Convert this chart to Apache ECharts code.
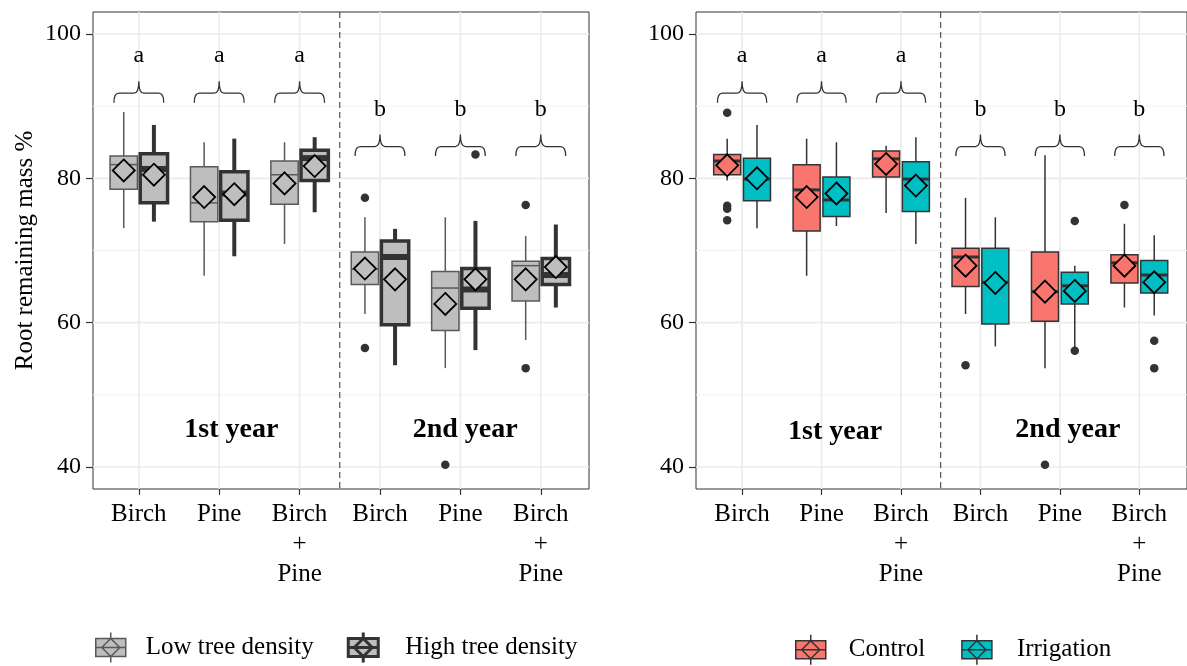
<!DOCTYPE html>
<html><head><meta charset="utf-8">
<script src="https://cdn.jsdelivr.net/npm/echarts@6/dist/echarts.min.js"></script>
<style>html,body{margin:0;padding:0;background:#fff}#c{width:1187px;height:666px}</style>
</head><body><div id="c"></div>
<script>
// ---------- data ----------
const categories = ['Birch', 'Pine', 'Birch\n+\nPine', 'Birch', 'Pine', 'Birch\n+\nPine'];
const yMajorTicks = [40, 60, 80, 100];
const yMinorTicks = [50, 70, 90];
const letters = ['a', 'a', 'a', 'b', 'b', 'b'];
const yearLabels = ['1st year', '2nd year'];

// each box: [lower whisker, Q1, median, Q3, upper whisker]
const lowStats = [
  [73.1, 78.5, 81.9, 83.1, 89.2],
  [66.5, 74.0, 76.6, 81.6, 85.0],
  [70.9, 76.4, 80.5, 82.4, 85.0],
  [61.2, 65.3, 67.4, 69.8, 74.6],
  [53.7, 58.9, 64.8, 67.1, 74.6],
  [57.6, 63.0, 67.9, 68.5, 72.0]
];
const lowMeans = [81.1, 77.4, 79.3, 67.5, 62.6, 66.0];
const lowOutliers = [[3, 77.3], [3, 56.5], [4, 40.3], [5, 76.3], [5, 53.7]];

const highStats = [
  [74.0, 76.6, 81.3, 83.4, 87.4],
  [69.2, 74.2, 77.9, 80.9, 85.5],
  [75.3, 79.7, 82.8, 83.9, 85.7],
  [54.1, 59.7, 69.1, 71.3, 73.0],
  [56.2, 62.0, 64.6, 67.5, 74.1],
  [62.1, 65.3, 66.6, 68.9, 73.6]
];
const highMeans = [80.5, 77.8, 81.7, 66.0, 66.0, 67.7];
const highOutliers = [[4, 83.3]];

const controlStats = [
  [79.7, 80.5, 82.4, 83.3, 85.5],
  [66.5, 72.7, 78.4, 81.9, 85.5],
  [75.2, 80.2, 82.7, 83.8, 84.5],
  [61.2, 65.0, 69.1, 70.3, 77.3],
  [53.7, 60.2, 64.3, 69.8, 83.2],
  [62.1, 65.5, 68.3, 69.4, 73.7]
];
const controlMeans = [81.8, 77.4, 82.0, 67.9, 64.3, 67.9];
const controlOutliers = [[0, 89.1], [0, 76.2], [0, 75.8], [0, 74.2], [3, 54.1], [4, 40.3], [5, 76.3]];

const irrigationStats = [
  [73.1, 76.9, 79.9, 82.8, 87.4],
  [73.4, 74.7, 77.0, 80.2, 85.0],
  [70.9, 75.4, 79.9, 82.3, 85.7],
  [56.7, 59.8, 65.6, 70.3, 74.6],
  [56.1, 62.6, 65.1, 67.0, 67.9],
  [61.0, 64.1, 66.6, 68.6, 72.1]
];
const irrigationMeans = [80.0, 77.9, 79.0, 65.5, 64.4, 65.6];
const irrigationOutliers = [[4, 74.1], [4, 56.1], [5, 57.5], [5, 53.7]];

// ---------- styling / layout ----------
const FONT = "'Liberation Serif', 'Times New Roman', serif";
const BOX_W = 0.34, DODGE = 0.1875, BRACE_HALF = 0.31;
const braceLevel = [91.8, 84.4];           // brace baseline per year (value units)
const yearLabelPos = [[[1.15, 45.1], [4.06, 45.1]], [[1.17, 44.9], [4.1, 45.1]]];

const styles = {
  low:  {fill: '#BEBEBE', stroke: '#595959', boxW: 1.5, whiskerW: 1.5, medW: 1.5, offset: -DODGE},
  high: {fill: '#BEBEBE', stroke: '#333333', boxW: 3.5, whiskerW: 4, medW: 6, offset: DODGE},
  ctrl: {fill: '#F8766D', stroke: '#333333', boxW: 1.5, whiskerW: 1.5, medW: 3, offset: -DODGE},
  irr:  {fill: '#00BFC4', stroke: '#333333', boxW: 1.5, whiskerW: 1.5, medW: 3, offset: DODGE}
};

function gridLinesSeries(idx) {
  const lines = [];
  yMajorTicks.forEach(v => lines.push({t: 'h', v, w: 1.6, c: '#EBEBEB'}));
  yMinorTicks.forEach(v => lines.push({t: 'h', v, w: 1, c: '#F2F2F2'}));
  categories.forEach((_, i) => lines.push({t: 'v', v: i, w: 1.6, c: '#EBEBEB'}));
  lines.push({t: 'v', v: 2.5, w: 1, c: '#333', dash: [6, 4]});
  return {
    type: 'custom', xAxisIndex: idx, yAxisIndex: idx, z: 1, silent: true,
    data: lines.map((l, i) => [i]),
    renderItem(params, api) {
      const l = lines[params.dataIndex];
      const cs = params.coordSys;
      if (l.t === 'h') {
        const y = api.coord([0, l.v])[1];
        return {type: 'line', shape: {x1: cs.x, y1: y, x2: cs.x + cs.width, y2: y}, style: {stroke: l.c, lineWidth: l.w}};
      }
      const x = api.coord([l.v, 50])[0];
      return {type: 'line', shape: {x1: x, y1: cs.y, x2: x, y2: cs.y + cs.height}, style: {stroke: l.c, lineWidth: l.w, lineDash: l.dash || null}};
    }
  };
}

function boxSeries(name, idx, stats, means, st) {
  return {
    type: 'custom', name, xAxisIndex: idx, yAxisIndex: idx, z: 3,
    itemStyle: {color: st.fill, borderColor: st.stroke},
    data: stats.map((s, i) => [i, ...s, means[i]]),
    encode: {x: 0, y: [1, 2, 3, 4, 5]},
    renderItem(params, api) {
      const x = api.value(0) + st.offset;
      const lo = api.value(1), q1 = api.value(2), med = api.value(3), q3 = api.value(4), hi = api.value(5), mean = api.value(6);
      const a = api.coord([x - BOX_W / 2, q3]);
      const b = api.coord([x + BOX_W / 2, q1]);
      const cx = api.coord([x, med])[0];
      const yy = v => api.coord([x, v])[1];
      const m = api.coord([x, mean]);
      const D = 11;
      return {type: 'group', children: [
        {type: 'line', shape: {x1: cx, y1: yy(hi), x2: cx, y2: yy(q3)}, style: {stroke: st.stroke, lineWidth: st.whiskerW}},
        {type: 'line', shape: {x1: cx, y1: yy(q1), x2: cx, y2: yy(lo)}, style: {stroke: st.stroke, lineWidth: st.whiskerW}},
        {type: 'rect', shape: {x: a[0], y: a[1], width: b[0] - a[0], height: b[1] - a[1]}, style: {fill: st.fill, stroke: st.stroke, lineWidth: st.boxW}},
        {type: 'line', shape: {x1: a[0], y1: yy(med), x2: b[0], y2: yy(med)}, style: {stroke: st.stroke, lineWidth: st.medW}},
        {type: 'polygon', shape: {points: [[m[0], m[1] - D], [m[0] + D, m[1]], [m[0], m[1] + D], [m[0] - D, m[1]]]}, style: {fill: st.fill, stroke: '#000', lineWidth: 1.8}}
      ]};
    }
  };
}

function outlierSeries(idx, pts, st) {
  return {
    type: 'scatter', xAxisIndex: idx, yAxisIndex: idx, z: 4, silent: true,
    symbol: 'circle', symbolSize: 8.5, itemStyle: {color: '#333333', opacity: 1},
    data: pts.map(p => [p[0] + st.offset, p[1]])
  };
}

function annotationSeries(idx) {
  return {
    type: 'custom', xAxisIndex: idx, yAxisIndex: idx, z: 5, silent: true,
    data: letters.map((l, i) => [i, braceLevel[i < 3 ? 0 : 1]]),
    renderItem(params, api) {
      const i = params.dataIndex;
      const c = api.coord([api.value(0), api.value(1)]);
      const L = api.coord([api.value(0) - BRACE_HALF, api.value(1)])[0];
      const R = api.coord([api.value(0) + BRACE_HALF, api.value(1)])[0];
      const y = c[1], cx = c[0], drop = 9.5, rise = 12, r = 5;
      const d = `M${L},${y + drop} Q${L},${y} ${L + r},${y} L${cx - r},${y} Q${cx},${y} ${cx},${y - rise} ` +
                `M${cx},${y - rise} Q${cx},${y} ${cx + r},${y} L${R - r},${y} Q${R},${y} ${R},${y + drop}`;
      return {type: 'group', children: [
        {type: 'path', shape: {pathData: d}, style: {fill: 'none', stroke: '#333', lineWidth: 1.3}},
        {type: 'text', x: cx, y: y - rise - 25, style: {text: letters[i], fill: '#000', fontSize: 24, fontFamily: FONT, align: 'center', verticalAlign: 'middle'}}
      ]};
    }
  };
}

function yearSeries(idx) {
  return {
    type: 'custom', xAxisIndex: idx, yAxisIndex: idx, z: 5, silent: true,
    data: yearLabelPos[idx],
    renderItem(params, api) {
      const p = api.coord([api.value(0), api.value(1)]);
      return {type: 'text', x: p[0], y: p[1], style: {text: yearLabels[params.dataIndex], fill: '#000', fontSize: 28, fontWeight: 'bold', fontFamily: FONT, align: 'center', verticalAlign: 'middle'}};
    }
  };
}

const catIdx = categories.map((_, i) => i);
function xAxis(idx, min) {
  return {
    gridIndex: idx, type: 'value', min: min, max: 5.6,
    axisLine: {show: false, onZero: false}, splitLine: {show: false},
    axisTick: {show: true, customValues: catIdx, length: 6, lineStyle: {color: '#333', width: 1.2}},
    axisLabel: {customValues: catIdx, formatter: v => categories[Math.round(v)], fontSize: 25, lineHeight: 30,
                color: '#000', fontFamily: FONT, margin: 10}
  };
}
function yAxis(idx, withName) {
  return {
    gridIndex: idx, type: 'value', min: 36.95, max: 103.05,
    name: withName ? 'Root remaining mass %' : '', nameLocation: 'middle', nameGap: 55,
    nameTextStyle: {fontSize: 25, fontFamily: FONT, color: '#000'},
    axisLine: {show: false, onZero: false}, splitLine: {show: false},
    axisTick: {show: true, customValues: yMajorTicks, length: 7, lineStyle: {color: '#333', width: 1.2}},
    axisLabel: {customValues: yMajorTicks, fontSize: 24, color: '#000', fontFamily: FONT, margin: 12}
  };
}

const keyPath = 'path://M0,6 L30,6 L30,24 L0,24 Z M15,0 L15,6 M15,24 L15,30 M0,15 L30,15 M15,6 L24,15 L15,24 L6,15 Z';
const legendText = pad => ({fontSize: 25, fontFamily: FONT, color: '#000', padding: [0, 0, 0, pad]});

const option = {
  animation: false,
  backgroundColor: '#fff',
  textStyle: {fontFamily: FONT},
  grid: [
    {left: 93, top: 12, width: 496, height: 477, show: true, borderColor: '#333', borderWidth: 1, backgroundColor: '#fff'},
    {left: 696, top: 12, width: 498, height: 477, show: true, borderColor: '#333', borderWidth: 1, backgroundColor: '#fff'}
  ],
  xAxis: [xAxis(0, -0.57), xAxis(1, -0.58)],
  yAxis: [yAxis(0, true), yAxis(1, false)],
  legend: [
    {left: 95, top: 631, padding: 0, orient: 'horizontal', itemWidth: 30, itemHeight: 30, itemGap: 33, selectedMode: false,
     textStyle: legendText(15),
     data: [
       {name: 'Low tree density', icon: keyPath, textStyle: legendText(15), itemStyle: {color: '#BEBEBE', borderColor: '#595959', borderWidth: 1.5}},
       {name: 'High tree density', icon: keyPath, textStyle: legendText(22), itemStyle: {color: '#BEBEBE', borderColor: '#333', borderWidth: 3}}
     ]},
    {left: 795, top: 634, padding: 0, orient: 'horizontal', itemWidth: 30, itemHeight: 30, itemGap: 36, selectedMode: false,
     textStyle: legendText(18),
     data: [
       {name: 'Control', icon: keyPath, textStyle: legendText(18), itemStyle: {color: '#F8766D', borderColor: '#333', borderWidth: 1.5}},
       {name: 'Irrigation', icon: keyPath, textStyle: legendText(20), itemStyle: {color: '#00BFC4', borderColor: '#333', borderWidth: 1.5}}
     ]}
  ],
  series: [
    gridLinesSeries(0), gridLinesSeries(1),
    boxSeries('Low tree density', 0, lowStats, lowMeans, styles.low),
    boxSeries('High tree density', 0, highStats, highMeans, styles.high),
    boxSeries('Control', 1, controlStats, controlMeans, styles.ctrl),
    boxSeries('Irrigation', 1, irrigationStats, irrigationMeans, styles.irr),
    outlierSeries(0, lowOutliers, styles.low), outlierSeries(0, highOutliers, styles.high),
    outlierSeries(1, controlOutliers, styles.ctrl), outlierSeries(1, irrigationOutliers, styles.irr),
    annotationSeries(0), annotationSeries(1),
    yearSeries(0), yearSeries(1)
  ]
};

const chart = echarts.init(document.getElementById('c'), null, {renderer: 'canvas'});
chart.setOption(option);
</script>
</body></html>
